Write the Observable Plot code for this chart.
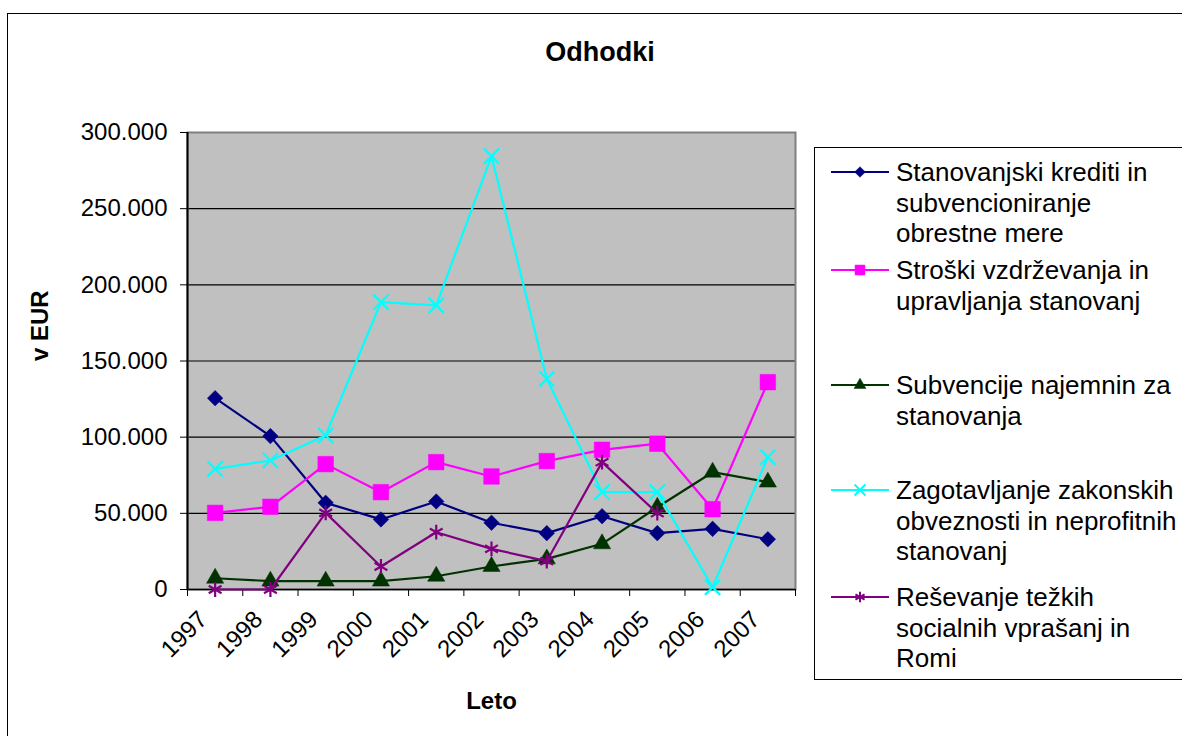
<!DOCTYPE html>
<html><head><meta charset="utf-8">
<script src="https://cdn.jsdelivr.net/npm/d3@7"></script>
<script src="https://cdn.jsdelivr.net/npm/@observablehq/plot@0.6"></script>
<style>
body{margin:0;background:#fff;overflow:hidden;font-family:"Liberation Sans",Arial,sans-serif;}
#wrap{position:relative;width:1182px;height:736px;overflow:hidden;background:#fff;}
#border{position:absolute;left:7px;top:13px;width:1300px;height:900px;border:1px solid #000;}
#title{position:absolute;left:0;width:1200px;top:39px;line-height:27px;text-align:center;font-weight:bold;font-size:27px;color:#000;}
#chart{position:absolute;left:0;top:0;}
#legend{position:absolute;left:814px;top:147px;width:400px;height:531px;border:1px solid #000;background:#fff;}
.entry{position:absolute;left:0;width:390px;}
.entry svg{position:absolute;left:16px;}
.entry .txt{position:absolute;left:81px;top:0;font-size:26px;line-height:30.5px;white-space:nowrap;color:#000;}
</style>
</head><body>
<div id="wrap">
  <div id="border"></div>
  <div id="title">Odhodki</div>
  <div id="chart"></div>
  <div id="legend"></div>
</div>
<script>
const years = [1997, 1998, 1999, 2000, 2001, 2002, 2003, 2004, 2005, 2006, 2007];
const seriesNames = [
  "Stanovanjski krediti in subvencioniranje obrestne mere",
  "Stroški vzdrževanja in upravljanja stanovanj",
  "Subvencije najemnin za stanovanja",
  "Zagotavljanje zakonskih obveznosti in neprofitnih stanovanj",
  "Reševanje težkih socialnih vprašanj in Romi"
];
const legendLines = [
  ["Stanovanjski krediti in", "subvencioniranje", "obrestne mere"],
  ["Stroški vzdrževanja in", "upravljanja stanovanj"],
  ["Subvencije najemnin za", "stanovanja"],
  ["Zagotavljanje zakonskih", "obveznosti in neprofitnih", "stanovanj"],
  ["Reševanje težkih", "socialnih vprašanj in", "Romi"]
];
const stanovanjskiKrediti = [125600, 100700, 56900, 46000, 57800, 43800, 37000, 48100, 37000, 39800, 33000];
const stroskiVzdrzevanja = [50300, 54300, 82300, 63900, 83600, 74200, 84300, 91700, 95700, 52700, 136100];
const subvencijeNajemnin = [7400, 5500, 5500, 5500, 8700, 15100, 20100, 30000, 54000, 77000, 70500];
const zagotavljanje = [79200, 84700, 101100, 188600, 186500, 284500, 138300, 63900, 63900, 1500, 86900];
const resevanje = [0, 0, 50300, 15100, 37600, 26700, 18600, 83600, 50100, null, null];
const seriesValues = [stanovanjskiKrediti, stroskiVzdrzevanja, subvencijeNajemnin, zagotavljanje, resevanje];
const yTicks = [0, 50000, 100000, 150000, 200000, 250000, 300000];
const gridTicks = [50000, 100000, 150000, 200000, 250000];

const styles = [
  {color: "#000080", symbol: "diamond2", filled: true, r: 7, lr: 4.8},
  {color: "#ff00ff", symbol: "square", filled: true, r: 8.8, lr: 5.6},
  {color: "#003300", symbol: "triangle", filled: true, r: 6.4, lr: 4.4},
  {color: "#00ffff", symbol: "times", filled: false, r: 7, lr: 5},
  {color: "#800080", symbol: "asterisk", filled: false, r: 7, lr: 5}
];

const bounds = years.map(y => y - 0.5).concat([years[years.length - 1] + 0.5]);
const fmt = d => d === 0 ? "0" : d3.format(",")(d).replace(/,/g, ".");

const marks = [
  Plot.frame({fill: "#c0c0c0"}),
  Plot.ruleY(gridTicks, {stroke: "#000", strokeWidth: 1.2}),
  Plot.frame({stroke: "#808080", strokeWidth: 2}),
  Plot.ruleX([bounds[0]], {stroke: "#000", strokeWidth: 2}),
  Plot.ruleY([0], {stroke: "#000", strokeWidth: 1.5}),
  Plot.axisY({ticks: yTicks, tickSize: 7, tickPadding: 13, tickFormat: fmt, fontSize: 24, label: null, stroke: "#000"}),
  Plot.axisX({ticks: bounds, tickSize: 7, tickFormat: () => "", label: null}),
  Plot.axisX({ticks: years, tickSize: 0, tickPadding: 26, tickRotate: -45, dx: -12, fontSize: 24, tickFormat: d => String(d), label: null}),
  Plot.text(["Leto"], {frameAnchor: "bottom", dy: 112, fontSize: 24, fontWeight: "bold", lineAnchor: "middle"}),
  Plot.text(["v EUR"], {frameAnchor: "left", dx: -147, rotate: -90, fontSize: 24, fontWeight: "bold", lineAnchor: "middle"})
];

seriesNames.forEach((name, i) => {
  const rows = years.map((yr, j) => ({series: name, year: yr, value: seriesValues[i][j]}));
  const s = styles[i];
  marks.push(Plot.line(rows, {x: "year", y: "value", stroke: s.color, strokeWidth: 2.2}));
  marks.push(Plot.dot(rows.filter(d => d.value != null), {
    x: "year", y: "value", symbol: () => s.symbol, r: s.r,
    fill: s.filled ? s.color : "none",
    stroke: s.color, strokeWidth: s.filled ? 0.5 : 2.2
  }));
});

const chart = Plot.plot({
  width: 810, height: 736,
  marginLeft: 187, marginRight: 15, marginTop: 132, marginBottom: 147,
  x: {type: "linear", domain: [bounds[0], bounds[bounds.length - 1]]},
  y: {domain: [0, 300000]},
  symbol: {type: "identity"},
  style: {fontFamily: "'Liberation Sans', Arial, sans-serif", background: "transparent", color: "#000", overflow: "visible"},
  marks
});
document.getElementById("chart").appendChild(chart);

// Legend
const legend = d3.select("#legend");
const entryCenters = [24, 122, 237, 342, 449];
seriesNames.forEach((name, i) => {
  const s = styles[i];
  const e = legend.append("div").attr("class", "entry").style("top", (entryCenters[i] - 15) + "px");
  const svg = e.append("svg").attr("width", 58).attr("height", 20).style("top", "5px");
  svg.append("line").attr("x1", 0).attr("x2", 58).attr("y1", 10).attr("y2", 10)
    .attr("stroke", s.color).attr("stroke-width", 2);
  const sym = {diamond2: d3.symbolDiamond2, square: d3.symbolSquare, triangle: d3.symbolTriangle, times: d3.symbolTimes, asterisk: d3.symbolAsterisk}[s.symbol];
  svg.append("path").attr("transform", "translate(29,10)")
    .attr("d", d3.symbol(sym, Math.PI * s.lr * s.lr)())
    .attr("fill", s.filled ? s.color : "none")
    .attr("stroke", s.color).attr("stroke-width", s.filled ? 0.5 : 2);
  e.append("div").attr("class", "txt").html(legendLines[i].join("<br>"));
});
</script>
</body></html>
